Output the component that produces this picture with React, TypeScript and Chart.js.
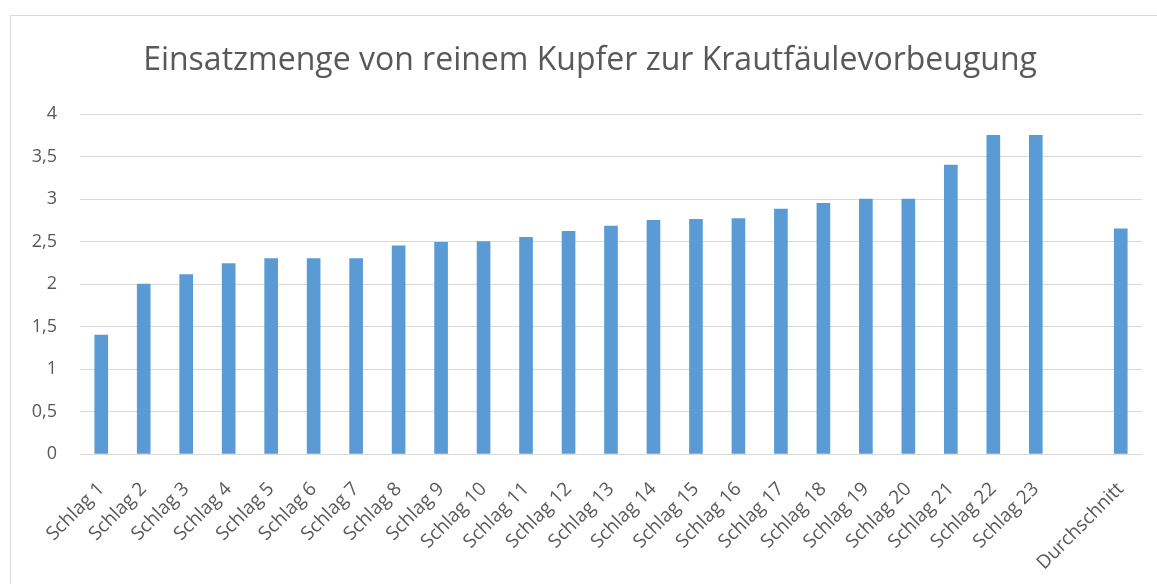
import React, { useEffect, useRef } from "react";
import { Chart, registerables } from "chart.js";

Chart.register(...registerables);

const TITLE = "Einsatzmenge von reinem Kupfer zur Krautfäulevorbeugung";
const categories = [
  "Schlag 1", "Schlag 2", "Schlag 3", "Schlag 4", "Schlag 5", "Schlag 6",
  "Schlag 7", "Schlag 8", "Schlag 9", "Schlag 10", "Schlag 11", "Schlag 12",
  "Schlag 13", "Schlag 14", "Schlag 15", "Schlag 16", "Schlag 17", "Schlag 18",
  "Schlag 19", "Schlag 20", "Schlag 21", "Schlag 22", "Schlag 23", "", "Durchschnitt",
];
const values = [
  1.4, 2.0, 2.11, 2.24, 2.3, 2.3, 2.3, 2.45, 2.49, 2.5, 2.55, 2.62,
  2.68, 2.75, 2.76, 2.77, 2.88, 2.95, 3.0, 3.0, 3.4, 3.75, 3.75, null, 2.65,
];
const yTicks = [0, 0.5, 1, 1.5, 2, 2.5, 3, 3.5, 4];

const FONT = "'Open Sans', 'Noto Sans', sans-serif";
const TEXT = "#595959";
const GRID = "#d9d9d9";
const BAR = "#5b9bd5";

const titlePlugin = {
  id: "centeredTitle",
  afterDraw(chart: any) {
    const ctx = chart.ctx;
    ctx.save();
    ctx.font = `normal 32px ${FONT}`;
    ctx.fillStyle = TEXT;
    ctx.textAlign = "center";
    ctx.textBaseline = "middle";
    ctx.fillText(TITLE, 590, 61);
    ctx.restore();
  },
};

export default function App() {
  const ref = useRef<HTMLCanvasElement | null>(null);
  useEffect(() => {
    if (!ref.current) return;
    const chart = new Chart(ref.current, {
      type: "bar",
      data: {
        labels: categories,
        datasets: [
          {
            data: values as any,
            backgroundColor: BAR,
            borderWidth: 0,
            barThickness: 13,
          },
        ],
      },
      plugins: [titlePlugin],
      options: {
        animation: false,
        responsive: false,
        maintainAspectRatio: false,
        layout: { padding: { left: 10, right: 15, top: 114, bottom: 0 } },
        plugins: {
          legend: { display: false },
          tooltip: { enabled: false },
          title: { display: false },
        },
        scales: {
          x: {
            grid: { display: false, drawTicks: false },
            border: { display: true, color: GRID, width: 1 },
            ticks: {
              autoSkip: false,
              minRotation: 45,
              maxRotation: 45,
              color: TEXT,
              padding: 24,
              font: { family: FONT, size: 19 },
            },
            afterFit: (s: any) => {
              s.height = 130;
              s.paddingLeft = 0;
              s.paddingRight = 0;
            },
          },
          y: {
            min: 0,
            max: 4,
            afterBuildTicks: (s: any) => {
              s.ticks = yTicks.map((v) => ({ value: v }));
            },
            grid: { color: GRID, lineWidth: 1, drawTicks: false },
            border: { display: false },
            ticks: {
              color: TEXT,
              padding: 23,
              font: { family: FONT, size: 18 },
              callback: (v: any) => String(v).replace(".", ","),
            },
            afterFit: (s: any) => {
              s.width = 70;
            },
          },
        },
      },
    });
    return () => chart.destroy();
  }, []);
  return (
    <div style={{ position: "fixed", left: 0, top: 0, width: 1157, height: 584, background: "#fff", overflow: "hidden" }}>
      <div
        style={{
          position: "absolute",
          left: 10,
          top: 15,
          width: 1300,
          height: 700,
          border: "1.5px solid #d9d9d9",
        }}
      />
      <canvas ref={ref} width={1157} height={584} style={{ position: "absolute", left: 0, top: 0, display: "block" }} />
    </div>
  );
}
